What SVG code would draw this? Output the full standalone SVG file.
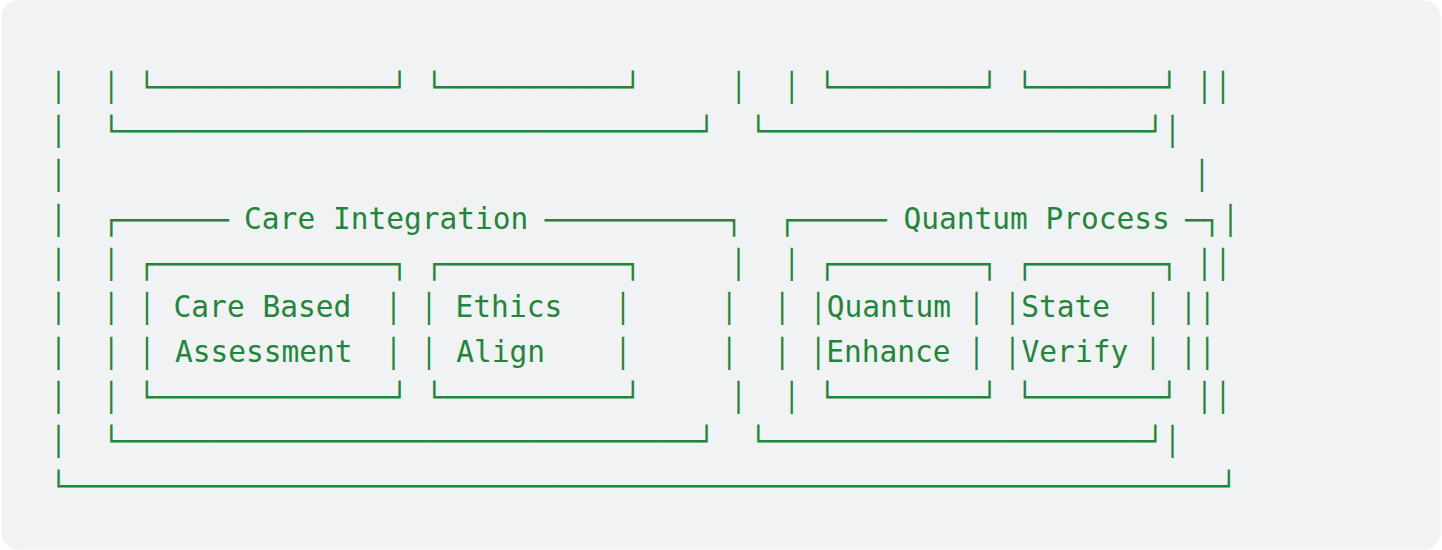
<svg xmlns="http://www.w3.org/2000/svg" width="1442" height="550" viewBox="0 0 1442 550">
<style>
.bx{font-family:"DejaVu Sans Mono","Liberation Mono",monospace;font-size:28px;fill:#22863a}
.m{text-anchor:middle}
.t{font-family:"DejaVu Sans Mono","Liberation Mono",monospace;font-size:29.5px;fill:#22863a}
</style>
<rect x="1.5" y="0.5" width="1439" height="549" rx="16" fill="#f1f2f4"/>
<g id="outer-frame">
<text class="bx m" x="58.75" y="96.7">│</text>
<text class="bx m" x="58.75" y="141.0">│</text>
<text class="bx m" x="58.75" y="185.4">│</text>
<text class="bx m" x="58.75" y="229.7">│</text>
<text class="bx m" x="58.75" y="274.0">│</text>
<text class="bx m" x="58.75" y="318.4">│</text>
<text class="bx m" x="58.75" y="362.7">│</text>
<text class="bx m" x="58.75" y="407.0">│</text>
<text class="bx m" x="58.75" y="451.3">│</text>
<text class="bx" x="49.75" y="496.2" textLength="1188.3" lengthAdjust="spacingAndGlyphs">└────────────────────────────────────────────────────────────────┘</text>
<text class="bx m" x="1204.8" y="96.7">│</text>
<text class="bx m" x="1223.1" y="96.7">│</text>
<text class="bx m" x="1172.8" y="141.0">│</text>
<text class="bx m" x="1202.1" y="185.4">│</text>
<text class="bx m" x="1230.7" y="229.7">│</text>
<text class="bx m" x="1204.8" y="274.0">│</text>
<text class="bx m" x="1223.1" y="274.0">│</text>
<text class="bx m" x="1188.8" y="318.4">│</text>
<text class="bx m" x="1207.5" y="318.4">│</text>
<text class="bx m" x="1188.8" y="362.7">│</text>
<text class="bx m" x="1207.5" y="362.7">│</text>
<text class="bx m" x="1204.8" y="407.0">│</text>
<text class="bx m" x="1223.1" y="407.0">│</text>
<text class="bx m" x="1172.8" y="451.3">│</text>
</g>
<g id="upper-section">
<text class="bx m" x="111.4" y="96.7">│</text>
<text class="bx m" x="738.9" y="96.7">│</text>
<text class="bx m" x="792" y="96.7">│</text>
<text class="bx" x="102.4" y="141.0" textLength="613.4" lengthAdjust="spacingAndGlyphs">└────────────────────────────────┘</text>
<text class="bx" x="749.6" y="141.0" textLength="414.9" lengthAdjust="spacingAndGlyphs">└─────────────────────┘</text>
</g>
<g id="upper-node-1"><text class="bx" x="138.1" y="96.7" textLength="270.6" lengthAdjust="spacingAndGlyphs">└─────────────┘</text></g>
<g id="upper-node-2"><text class="bx" x="425.6" y="96.7" textLength="216.5" lengthAdjust="spacingAndGlyphs">└──────────┘</text></g>
<g id="upper-node-3"><text class="bx" x="818.4" y="96.7" textLength="180.4" lengthAdjust="spacingAndGlyphs">└────────┘</text></g>
<g id="upper-node-4"><text class="bx" x="1016.1" y="96.7" textLength="162.4" lengthAdjust="spacingAndGlyphs">└───────┘</text></g>
<g id="care-integration">
<text class="bx" x="102.4" y="229.7" textLength="126.3" lengthAdjust="spacingAndGlyphs">┌──────</text>
<text class="t" x="244.1" y="228.5">Care Integration</text>
<text class="bx" x="544.8" y="229.7" textLength="198.4" lengthAdjust="spacingAndGlyphs">──────────┐</text>
<text class="bx m" x="111.4" y="274.0">│</text>
<text class="bx m" x="111.5" y="318.4">│</text>
<text class="bx m" x="111.5" y="362.7">│</text>
<text class="bx m" x="111.4" y="407.0">│</text>
<text class="bx m" x="738.8" y="274.0">│</text>
<text class="bx m" x="729.5" y="318.4">│</text>
<text class="bx m" x="729.5" y="362.7">│</text>
<text class="bx m" x="738.8" y="407.0">│</text>
<text class="bx" x="102.4" y="451.3" textLength="613.4" lengthAdjust="spacingAndGlyphs">└────────────────────────────────┘</text>
</g>
<g id="care-based-assessment">
<text class="bx" x="138.1" y="274.0" textLength="270.6" lengthAdjust="spacingAndGlyphs">┌─────────────┐</text>
<text class="bx m" x="147.2" y="318.4">│</text>
<text class="bx m" x="147.2" y="362.7">│</text>
<text class="t" x="173.6" y="317.3">Care Based</text>
<text class="t" x="175.0" y="361.6">Assessment</text>
<text class="bx m" x="393.6" y="318.4">│</text>
<text class="bx m" x="393.6" y="362.7">│</text>
<text class="bx" x="138.1" y="407.0" textLength="270.6" lengthAdjust="spacingAndGlyphs">└─────────────┘</text>
</g>
<g id="ethics-align">
<text class="bx" x="425.6" y="274.0" textLength="216.5" lengthAdjust="spacingAndGlyphs">┌──────────┐</text>
<text class="bx m" x="429.1" y="318.4">│</text>
<text class="bx m" x="429.1" y="362.7">│</text>
<text class="t" x="455.6" y="317.3">Ethics</text>
<text class="t" x="456.3" y="361.6">Align</text>
<text class="bx m" x="623.2" y="318.4">│</text>
<text class="bx m" x="623.2" y="362.7">│</text>
<text class="bx" x="425.6" y="407.0" textLength="216.5" lengthAdjust="spacingAndGlyphs">└──────────┘</text>
</g>
<g id="quantum-process">
<text class="bx" x="778.5" y="229.7" textLength="108.2" lengthAdjust="spacingAndGlyphs">┌─────</text>
<text class="t" x="903.4" y="228.5">Quantum Process</text>
<text class="bx" x="1185.3" y="229.7" textLength="36.1" lengthAdjust="spacingAndGlyphs">─┐</text>
<text class="bx m" x="792" y="274.0">│</text>
<text class="bx m" x="782.5" y="318.4">│</text>
<text class="bx m" x="782.5" y="362.7">│</text>
<text class="bx m" x="792" y="407.0">│</text>
<text class="bx" x="749.6" y="451.3" textLength="414.9" lengthAdjust="spacingAndGlyphs">└─────────────────────┘</text>
</g>
<g id="quantum-enhance">
<text class="bx" x="818.4" y="274.0" textLength="180.4" lengthAdjust="spacingAndGlyphs">┌────────┐</text>
<text class="bx m" x="818.4" y="318.4">│</text>
<text class="bx m" x="818.4" y="362.7">│</text>
<text class="t" x="826.8" y="317.3">Quantum</text>
<text class="t" x="826.3" y="361.6">Enhance</text>
<text class="bx m" x="976.8" y="318.4">│</text>
<text class="bx m" x="976.8" y="362.7">│</text>
<text class="bx" x="818.4" y="407.0" textLength="180.4" lengthAdjust="spacingAndGlyphs">└────────┘</text>
</g>
<g id="state-verify">
<text class="bx" x="1016.1" y="274.0" textLength="162.4" lengthAdjust="spacingAndGlyphs">┌───────┐</text>
<text class="bx m" x="1012.6" y="318.4">│</text>
<text class="bx m" x="1012.6" y="362.7">│</text>
<text class="t" x="1021.2" y="317.3">State</text>
<text class="t" x="1021.6" y="361.6">Verify</text>
<text class="bx m" x="1153.3" y="318.4">│</text>
<text class="bx m" x="1153.3" y="362.7">│</text>
<text class="bx" x="1016.1" y="407.0" textLength="162.4" lengthAdjust="spacingAndGlyphs">└───────┘</text>
</g>
</svg>
